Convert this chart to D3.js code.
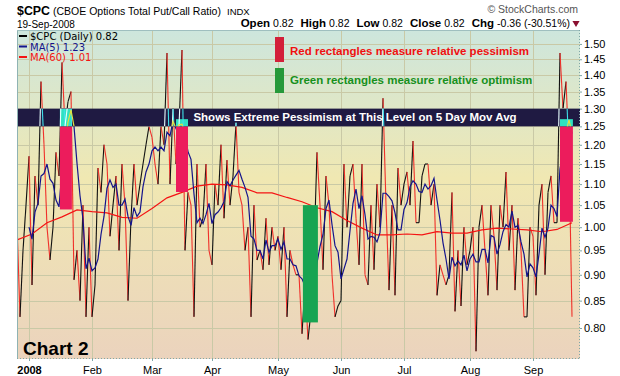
<!DOCTYPE html>
<html>
<head>
<meta charset="utf-8">
<script src="https://cdn.jsdelivr.net/npm/d3@7"></script>
<style>
  body { margin: 0; background: #fff; }
  svg { display: block; font-family: "Liberation Sans", Arial, sans-serif; }
</style>
</head>
<body>
<svg id="chart"></svg>
<script>
// market holidays inside the charted range
const holidays = ['2008-01-01', '2008-01-21', '2008-02-18', '2008-03-21', '2008-05-26', '2008-07-04', '2008-09-01'];

// daily $CPC closes, one array per month
const cpcDec07 = [1.01, 0.82, 0.95, 1.05];
const cpcJan = [1.17, 0.88, 1.12, 1.05, 1.38, 1.20, 1.00, 0.93, 1.00, 1.18, 1.12, 1.44, 1.25, 1.32, 1.35, 0.89, 0.95, 0.85, 1.05, 0.82, 1.00];
const cpcFeb = [0.82, 0.88, 1.14, 1.08, 1.20, 1.15, 0.98, 1.05, 1.12, 0.95, 1.15, 1.05, 0.85, 1.02, 1.15, 1.05, 1.10, 1.15, 1.20, 1.25];
const cpcMar = [1.22, 1.15, 1.10, 1.25, 1.20, 1.47, 1.10, 1.30, 1.15, 1.25, 1.48, 0.95, 1.08, 1.05, 0.82, 1.15, 1.00, 1.02, 1.15, 0.95];
const cpcApr = [0.92, 1.10, 1.05, 1.20, 1.02, 1.16, 1.05, 1.12, 1.26, 1.08, 1.05, 0.95, 1.00, 0.82, 1.05, 0.93, 0.95, 0.91, 1.02, 0.92, 1.00, 0.95];
const cpcMay = [0.98, 0.91, 1.00, 0.82, 0.95, 0.92, 0.90, 0.90, 0.79, 0.88, 0.78, 0.83, 0.95, 1.18, 1.05, 0.91, 1.12, 1.05, 0.90, 0.82, 0.84];
const cpcJun = [0.85, 1.15, 1.00, 1.12, 1.15, 1.02, 0.92, 1.15, 0.90, 0.88, 1.05, 0.91, 1.10, 1.00, 1.33, 1.05, 0.87, 1.05, 0.86, 1.14, 1.05];
const cpcJul = [1.10, 1.13, 1.05, 1.21, 1.01, 1.01, 1.12, 1.15, 1.15, 1.05, 1.10, 0.86, 0.92, 0.90, 0.88, 0.90, 1.08, 0.83, 0.95, 0.84, 1.00, 0.92];
const cpcAug = [0.95, 1.00, 0.76, 1.00, 1.05, 0.95, 0.86, 1.05, 0.98, 0.87, 1.05, 1.00, 1.13, 0.95, 1.05, 0.87, 1.02, 0.95, 0.82, 0.82, 1.00];
const cpcSep = [0.98, 0.86, 1.05, 1.10, 0.90, 1.08, 1.12, 1.01, 1.01, 1.47, 1.30, 1.38, 1.18, 0.82];

// 60 day average, every 5th session
const ma60Step = 5;
const ma60 = [0.972, 0.985, 1.010, 1.023, 1.039, 1.035, 1.032, 1.022, 1.020, 1.042, 1.067, 1.080, 1.095, 1.100,
  1.098, 1.092, 1.079, 1.079, 1.068, 1.058, 1.044, 1.035, 1.015, 0.998, 0.983, 0.983, 0.985, 0.983, 0.990,
  0.987, 0.987, 0.994, 0.998, 0.996, 0.994, 0.990, 0.995, 1.010];

const yTicks = [0.80, 0.85, 0.90, 0.95, 1.00, 1.05, 1.10, 1.15, 1.20, 1.25, 1.30, 1.35, 1.40, 1.45, 1.50];
const monthLabels = ['2008', 'Feb', 'Mar', 'Apr', 'May', 'Jun', 'Jul', 'Aug', 'Sep'];

// hand-drawn annotations: session index range and level range
const redBoxes = [
  { i0: 14.3, i1: 18.3, hi: 1.30, lo: 1.04 },
  { i0: 53.0, i1: 57.0, hi: 1.27, lo: 1.081 },
  { i0: 181.0, i1: 185.3, hi: 1.27, lo: 1.012 }
];
const greenBoxes = [{ i0: 95.3, i1: 100.3, hi: 1.05, lo: 0.81 }];
const band = { hi: 1.30, lo: 1.25, text: 'Shows Extreme Pessimism at This Level on 5 Day Mov Avg' };

const config = {
  width: 620, height: 376,
  margin: { top: 30, right: 40, bottom: 17, left: 17 }
};

const fmt = d3.timeFormat('%Y-%m-%d');
const days = [];
for (let d = new Date(2007, 11, 26); d <= new Date(2008, 8, 19); d.setDate(d.getDate() + 1)) {
  const wd = d.getDay();
  if (wd > 0 && wd < 6 && !holidays.includes(fmt(d))) days.push(new Date(d));
}
const cpc = [].concat(cpcDec07, cpcJan, cpcFeb, cpcMar, cpcApr, cpcMay, cpcJun, cpcJul, cpcAug, cpcSep);
const data = days.map((d, i) => ({ i: i, date: d, v: cpc[i] }));

const ma5 = [];
for (let i = 4; i < cpc.length; i++) {
  ma5.push({ i: i, v: d3.mean(cpc.slice(i - 4, i + 1)) });
}
const ma60Data = ma60.map((v, k) => ({ i: Math.min(k * ma60Step, cpc.length - 1), v: v }));

// first session of each month
const monthStarts = [];
data.forEach((d, k) => {
  if (d.date.getFullYear() === 2008 && (k === 0 || data[k - 1].date.getMonth() !== d.date.getMonth())) monthStarts.push(d.i);
});

const W = config.width - config.margin.left - config.margin.right;
const H = config.height - config.margin.top - config.margin.bottom;

const svg = d3.select('#chart').attr('width', config.width).attr('height', config.height);

const xscale = d3.scaleLinear().domain([0, cpc.length - 1]).range([0, W - 8]);
const yscale = d3.scaleLog().domain([0.747, 1.547]).range([H, 0]);

const defs = svg.append('defs');
const grad = defs.append('linearGradient').attr('id', 'bg').attr('x1', 0).attr('x2', 0).attr('y1', 0).attr('y2', 1);
grad.append('stop').attr('offset', '0%').attr('stop-color', '#cde6dd');
grad.append('stop').attr('offset', '45%').attr('stop-color', '#f0e8b2');
grad.append('stop').attr('offset', '100%').attr('stop-color', '#ebd3bd');
defs.append('clipPath').attr('id', 'plotclip').append('rect').attr('width', W).attr('height', H);
defs.append('clipPath').attr('id', 'bandclip').append('rect')
  .attr('x', 0).attr('width', W)
  .attr('y', yscale(band.hi)).attr('height', yscale(band.lo) - yscale(band.hi));

const chart = svg.append('g').attr('transform', `translate(${config.margin.left}, ${config.margin.top})`);

chart.append('rect').attr('width', W).attr('height', H).attr('fill', 'url(#bg)');

// grid
chart.append('g').selectAll('line').data(yTicks).join('line')
  .attr('x1', 0).attr('x2', W)
  .attr('y1', d => Math.round(yscale(d)) + 0.5).attr('y2', d => Math.round(yscale(d)) + 0.5)
  .attr('stroke', '#c9c9a6').attr('stroke-width', 1);
chart.append('g').selectAll('line').data(monthStarts).join('line')
  .attr('x1', d => Math.round(xscale(d)) + 0.5).attr('x2', d => Math.round(xscale(d)) + 0.5)
  .attr('y1', 0).attr('y2', H)
  .attr('stroke', '#c9c9a6').attr('stroke-width', 1);

const plot = chart.append('g').attr('clip-path', 'url(#plotclip)');

const line = d3.line().x(d => xscale(d.i)).y(d => yscale(d.v));
const segs = d3.pairs(data);

function drawCpc(g, upColor, downColor) {
  g.selectAll('path').data(segs).join('path')
    .attr('d', d => line(d))
    .attr('fill', 'none')
    .attr('stroke', d => d[1].v >= d[0].v ? upColor : downColor)
    .attr('stroke-width', 1.1);
}
drawCpc(plot.append('g'), '#111', '#f0302a');

plot.append('path').attr('d', line(ma60Data)).attr('fill', 'none').attr('stroke', '#f41414').attr('stroke-width', 1.2);
plot.append('path').attr('d', line(ma5)).attr('fill', 'none').attr('stroke', '#14148c').attr('stroke-width', 1.2);

// annotations
function box(g, b, color) {
  g.append('rect')
    .attr('x', xscale(b.i0)).attr('width', xscale(b.i1) - xscale(b.i0))
    .attr('y', yscale(b.hi)).attr('height', yscale(b.lo) - yscale(b.hi))
    .attr('fill', color);
}
redBoxes.forEach(b => box(plot, b, '#ec1c5c'));
greenBoxes.forEach(b => box(plot, b, '#17a452'));

plot.append('rect')
  .attr('x', 0).attr('width', W)
  .attr('y', yscale(band.hi)).attr('height', yscale(band.lo) - yscale(band.hi))
  .attr('fill', '#1f1a42');
const inBand = plot.append('g').attr('clip-path', 'url(#bandclip)');
redBoxes.forEach(b => box(inBand, b, '#2fe2c0'));
drawCpc(inBand.append('g'), '#e8ffff', '#3fe0e8');
inBand.append('path').attr('d', line(ma5)).attr('fill', 'none').attr('stroke', '#e0e040').attr('stroke-width', 1.2);

chart.append('text')
  .attr('x', 338).attr('y', (yscale(band.hi) + yscale(band.lo)) / 2 + 4)
  .attr('text-anchor', 'middle')
  .attr('fill', '#fff').style('font-weight', 'bold').style('font-size', '11.5px')
  .text(band.text);

// legend rectangles and notes
chart.append('rect').attr('x', 258).attr('y', 7).attr('width', 9).attr('height', 25).attr('fill', '#d31f3a');
chart.append('rect').attr('x', 258).attr('y', 38).attr('width', 9).attr('height', 25).attr('fill', '#26993a');
chart.append('text').attr('x', 273).attr('y', 25).attr('fill', '#f01010')
  .style('font-weight', 'bold').style('font-size', '11.5px').text('Red rectangles measure relative pessimism');
chart.append('text').attr('x', 273).attr('y', 54).attr('fill', '#17901c')
  .style('font-weight', 'bold').style('font-size', '11.5px').text('Green rectangles measure relative optimism');

// series legend
const legend = [
  { t: '$CPC (Daily) 0.82', c: '#000' },
  { t: 'MA(5) 1.23', c: '#14148c' },
  { t: 'MA(60) 1.01', c: '#f41414' }
];
const lg = chart.append('g').style('font-family', '"DejaVu Sans", Verdana, sans-serif').style('font-size', '10px');
legend.forEach((d, k) => {
  lg.append('rect').attr('x', 2).attr('y', 5 + k * 10.5).attr('width', 8).attr('height', 2).attr('fill', d.c);
  lg.append('text').attr('x', 13).attr('y', 10 + k * 10.5).attr('fill', d.c).text(d.t);
});

chart.append('text').attr('x', 6).attr('y', 325)
  .style('font-weight', 'bold').style('font-size', '19px').attr('fill', '#000').text('Chart 2');

// frame
chart.append('line').attr('x1', 0.5).attr('x2', 0.5).attr('y1', 0).attr('y2', H).attr('stroke', '#8fb3b3');
chart.append('line').attr('x1', 0).attr('x2', W).attr('y1', 0.5).attr('y2', 0.5).attr('stroke', '#9fbfbf');
chart.append('line').attr('x1', W - 0.5).attr('x2', W - 0.5).attr('y1', 0).attr('y2', H)
  .attr('stroke', '#7fa7a7').attr('stroke-dasharray', '1,2');
chart.append('line').attr('x1', 0).attr('x2', W).attr('y1', H - 0.5).attr('y2', H - 0.5)
  .attr('stroke', '#7fa7a7').attr('stroke-dasharray', '1,2');

// axes
const yaxis = d3.axisRight(yscale).tickValues(yTicks).tickFormat(d3.format('.2f')).tickSize(2);
const yg = chart.append('g').attr('transform', `translate(${W}, 0)`).call(yaxis);
yg.select('.domain').remove();
yg.selectAll('line').attr('stroke', '#7fa7a7');
yg.selectAll('text').attr('x', 4).style('font-size', '11px').style('font-family', '"Liberation Sans", Arial, sans-serif').attr('fill', '#000');

const xaxis = d3.axisBottom(xscale).tickValues(monthStarts).tickFormat((d, k) => monthLabels[k]).tickSize(2);
const xg = chart.append('g').attr('transform', `translate(0, ${H})`).call(xaxis);
xg.select('.domain').remove();
xg.selectAll('line').attr('stroke', '#7fa7a7');
xg.selectAll('text').attr('dy', '0.9em').style('font-size', '11px').style('font-family', '"Liberation Sans", Arial, sans-serif').attr('fill', '#000')
  .style('font-weight', (d, k) => k === 0 ? 'bold' : 'normal');

// header
svg.append('text').attr('x', 17).attr('y', 15).attr('fill', '#000')
  .style('font-weight', 'bold').style('font-size', '13.5px')
  .attr('textLength', 33).attr('lengthAdjust', 'spacingAndGlyphs').text('$CPC');
svg.append('text').attr('x', 53).attr('y', 15).attr('fill', '#000')
  .style('font-size', '10.5px').text('(CBOE Options Total Put/Call Ratio)');
svg.append('text').attr('x', 227).attr('y', 15).attr('fill', '#000')
  .style('font-size', '9.5px').text('INDX');
svg.append('text').attr('x', 17).attr('y', 27.5).style('font-size', '10px').text('19-Sep-2008');
svg.append('text').attr('x', 578).attr('y', 13).attr('text-anchor', 'end').attr('fill', '#555')
  .style('font-size', '10.5px').text('\u00a9 StockCharts.com');

const quote = [['Open', '0.82'], ['High', '0.82'], ['Low', '0.82'], ['Close', '0.82'], ['Chg', '-0.36 (-30.51%)']];
const q = svg.append('text').attr('x', 570).attr('y', 27).attr('text-anchor', 'end').style('font-size', '10.5px');
quote.forEach((p, k) => {
  q.append('tspan').attr('dx', k ? 7 : 0).style('font-weight', 'bold').style('font-size', '11.5px').text(p[0]);
  q.append('tspan').attr('dx', 3).text(p[1]);
});
svg.append('path').attr('d', d3.symbol(d3.symbolTriangle, 22)()).attr('transform', 'translate(576, 23) rotate(180)').attr('fill', '#8b1030');
</script>
</body>
</html>
